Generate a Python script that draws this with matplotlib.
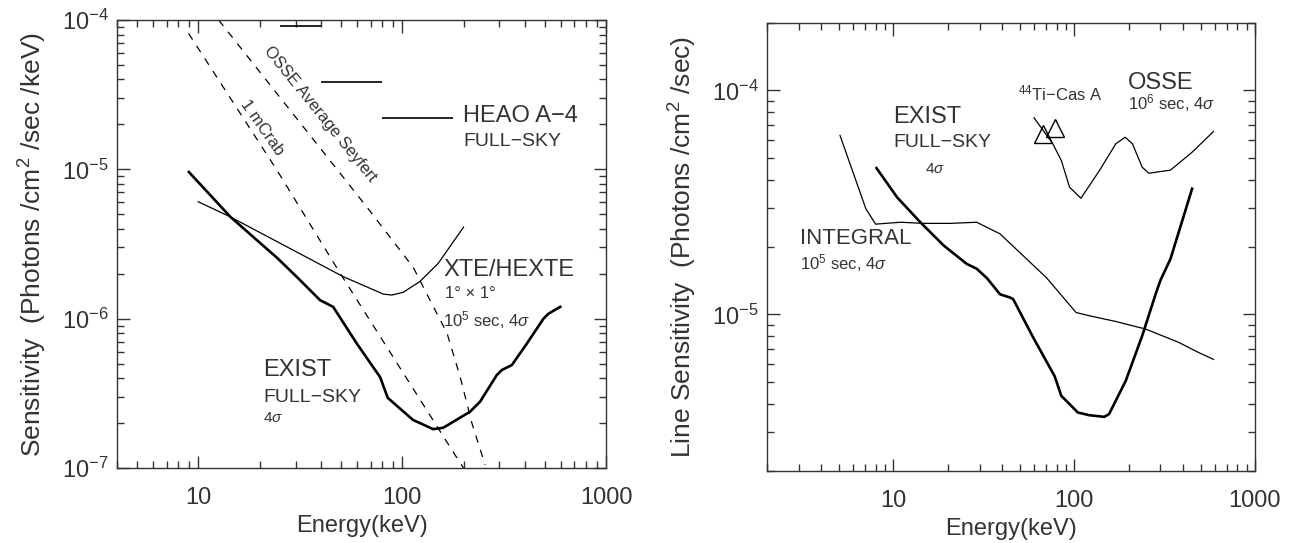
import numpy as np
import matplotlib
matplotlib.use("Agg")
import matplotlib.pyplot as plt
from matplotlib.ticker import FuncFormatter, NullFormatter

plt.rcParams['font.family'] = ['Liberation Sans', 'DejaVu Sans']
plt.rcParams['mathtext.fontset'] = 'custom'
plt.rcParams['mathtext.rm'] = 'Liberation Sans'
plt.rcParams['mathtext.it'] = 'Liberation Sans:italic'
plt.rcParams['mathtext.bf'] = 'Liberation Sans:bold'

# Left panel: continuum sensitivity
#-----------------------------------
exist_e = [9.0, 14.4, 24.4, 30.5, 39.6, 45.9, 60, 78, 85, 113, 142, 159, 215, 241,
           291, 308, 345, 409, 493, 522, 552, 596]
exist_s = [9.6e-6, 4.8e-6, 2.55e-6, 1.9e-6, 1.33e-6, 1.2e-6, 6.8e-7, 4.06e-7, 2.95e-7,
           2.1e-7, 1.82e-7, 1.86e-7, 2.38e-7, 2.78e-7, 4.19e-7, 4.53e-7, 4.89e-7,
           6.82e-7, 1.0e-6, 1.08e-6, 1.13e-6, 1.2e-6]

xte_e = [10, 14.4, 51.5, 81, 89, 101, 122, 150, 200]
xte_s = [6.07e-6, 4.8e-6, 1.91e-6, 1.46e-6, 1.44e-6, 1.5e-6, 1.77e-6, 2.34e-6, 4.1e-6]

crab_e = [8.96, 24.3, 49.7, 182, 200]
crab_s = [8.15e-5, 9.9e-6, 2.01e-6, 1.22e-7, 1.0e-7]

sey_e = [12.6, 31.6, 67.1, 113.5, 137, 166, 192.5, 220, 255]
sey_s = [1e-4, 2.05e-5, 5.6e-6, 2.2e-6, 1.33e-6, 8.0e-7, 4.08e-7, 1.99e-7, 1.05e-7]

heao_lo = [25.1, 39.9, 80]
heao_hi = [39.9, 80, 177]
heao_s = [9.1e-5, 3.83e-5, 2.22e-5]

# Right panel: line sensitivity
#-----------------------------------
integral_e = [5.07, 7.05, 7.98, 10.96, 14.7, 20.7, 28.9, 38.9, 70.2, 102.5, 121, 170,
              249, 379, 488, 590]
integral_s = [6.3e-5, 2.96e-5, 2.53e-5, 2.58e-5, 2.55e-5, 2.55e-5, 2.58e-5, 2.29e-5,
              1.46e-5, 1.02e-5, 9.87e-6, 9.3e-6, 8.6e-6, 7.5e-6, 6.76e-6, 6.3e-6]

exist_r_e = [8.07, 10.5, 14.1, 19, 25.5, 28.9, 33, 38.9, 44.2, 46, 59.3, 78, 84.9, 92.3,
             104.7, 121, 146.7, 156, 193, 238, 282, 300, 341, 449]
exist_r_s = [4.5e-5, 3.33e-5, 2.58e-5, 2.03e-5, 1.68e-5, 1.6e-5, 1.45e-5, 1.23e-5,
             1.19e-5, 1.17e-5, 7.9e-6, 5.3e-6, 4.33e-6, 4.05e-6, 3.65e-6, 3.55e-6,
             3.49e-6, 3.59e-6, 5.06e-6, 8.04e-6, 1.23e-5, 1.42e-5, 1.77e-5, 3.64e-5]

osse_e = [60, 76.2, 84.9, 94.3, 109, 138, 170, 191.5, 210, 238, 259, 341, 449, 590]
osse_s = [7.55e-5, 5.78e-5, 4.87e-5, 3.7e-5, 3.3e-5, 4.39e-5, 5.78e-5, 6.18e-5, 5.78e-5,
          4.54e-5, 4.27e-5, 4.41e-5, 5.3e-5, 6.56e-5]

ti_e = [67.6, 78.2]
ti_s = [6.4e-5, 6.83e-5]

txt = '#333333'


def style_axes(ax, xlim, ylim, ylabel):
    ax.set_xscale('log')
    ax.set_yscale('log')
    ax.set_xlim(xlim)
    ax.set_ylim(ylim)
    for sp in ax.spines.values():
        sp.set_linewidth(1.0)
        sp.set_color('#333333')
    ax.tick_params(which='both', direction='in', top=True, right=True,
                   color='#333333', labelcolor=txt)
    ax.tick_params(which='major', length=9, width=1, labelsize=17)
    ax.tick_params(which='minor', length=5, width=1)
    ax.tick_params(axis='x', which='major', pad=14)
    ax.tick_params(axis='y', which='major', pad=6)
    ax.xaxis.set_major_formatter(FuncFormatter(lambda v, p: f"{v:g}"))
    ax.yaxis.set_major_formatter(
        FuncFormatter(lambda v, p: f"10$^{{{int(round(np.log10(v)))}}}$"))
    ax.xaxis.set_minor_formatter(NullFormatter())
    ax.yaxis.set_minor_formatter(NullFormatter())
    ax.set_xlabel("Energy(keV)", fontsize=17, color=txt, labelpad=4)
    ax.set_ylabel(ylabel, fontsize=19, color=txt, labelpad=9)


fig = plt.figure(figsize=(12.89, 5.43), dpi=100)
ax1 = fig.add_axes([0.0908, 0.1381, 0.3794, 0.8250])
ax2 = fig.add_axes([0.5950, 0.1326, 0.3786, 0.8250])

# Left panel
dash = (0, (6, 6))
ax1.plot(exist_e, exist_s, color='black', lw=1.9)
ax1.plot(xte_e, xte_s, color='black', lw=0.9)
ax1.plot(crab_e, crab_s, color='black', lw=0.9, ls=dash)
ax1.plot(sey_e, sey_s, color='black', lw=0.9, ls=dash)
ax1.hlines(heao_s, heao_lo, heao_hi, color='black', lw=1.2)
style_axes(ax1, (4, 1000), (1e-7, 1e-4),
           "Sensitivity  (Photons /cm$^2$ /sec /keV)")

t = ax1.transAxes
ax1.text(0.7076, 0.7857, "HEAO A\u22124", fontsize=17, color=txt, transform=t, va='center')
ax1.text(0.7076, 0.7299, "FULL\u2212SKY", fontsize=14, color=txt, transform=t, va='center')
ax1.text(0.6667, 0.4420, "XTE/HEXTE", fontsize=17, color=txt, transform=t, va='center')
ax1.text(0.6708, 0.3906, "1\u00b0 \u00d7 1\u00b0", fontsize=12, color=txt, transform=t, va='center')
ax1.text(0.6667, 0.3304, "10$^5$ sec, 4$\\sigma$", fontsize=12, color=txt, transform=t, va='center')
ax1.text(0.2986, 0.2188, "EXIST", fontsize=17, color=txt, transform=t, va='center')
ax1.text(0.2986, 0.1574, "FULL\u2212SKY", fontsize=14, color=txt, transform=t, va='center')
ax1.text(0.2986, 0.1116, "4$\\sigma$", fontsize=11, color=txt, transform=t, va='center')
ax1.text(0.4150, 0.7900, "OSSE Average Seyfert", fontsize=12, color=txt, transform=t,
         ha='center', va='center', rotation=-51, rotation_mode='anchor')
ax1.text(0.2960, 0.7589, "1 mCrab", fontsize=12, color=txt, transform=t,
         ha='center', va='center', rotation=-55, rotation_mode='anchor')

# Right panel
ax2.plot(integral_e, integral_s, color='black', lw=0.9)
ax2.plot(exist_r_e, exist_r_s, color='black', lw=1.9)
ax2.plot(osse_e, osse_s, color='black', lw=0.9)
ax2.plot(ti_e, ti_s, ls='none', marker='^', ms=13, mfc='none', mec='black', mew=1.0)
style_axes(ax2, (2, 1000), (2e-6, 2e-4),
           "Line Sensitivity  (Photons /cm$^2$ /sec)")

t = ax2.transAxes
ax2.text(0.2582, 0.7902, "EXIST", fontsize=17, color=txt, transform=t, va='center')
ax2.text(0.2582, 0.7344, "FULL\u2212SKY", fontsize=14, color=txt, transform=t, va='center')
ax2.text(0.3238, 0.6741, "4$\\sigma$", fontsize=11, color=txt, transform=t, va='center')
ax2.text(0.0676, 0.5201, "INTEGRAL", fontsize=16, color=txt, transform=t, va='center')
ax2.text(0.0676, 0.4643, "10$^5$ sec, 4$\\sigma$", fontsize=12, color=txt, transform=t, va='center')
ax2.text(0.5143, 0.8438, "$^{44}$Ti\u2212Cas A", fontsize=12, color=txt, transform=t, va='center')
ax2.text(0.7398, 0.8661, "OSSE", fontsize=17, color=txt, transform=t, va='center')
ax2.text(0.7398, 0.8214, "10$^6$ sec, 4$\\sigma$", fontsize=12, color=txt, transform=t, va='center')

fig.savefig("out.png", dpi=100)
